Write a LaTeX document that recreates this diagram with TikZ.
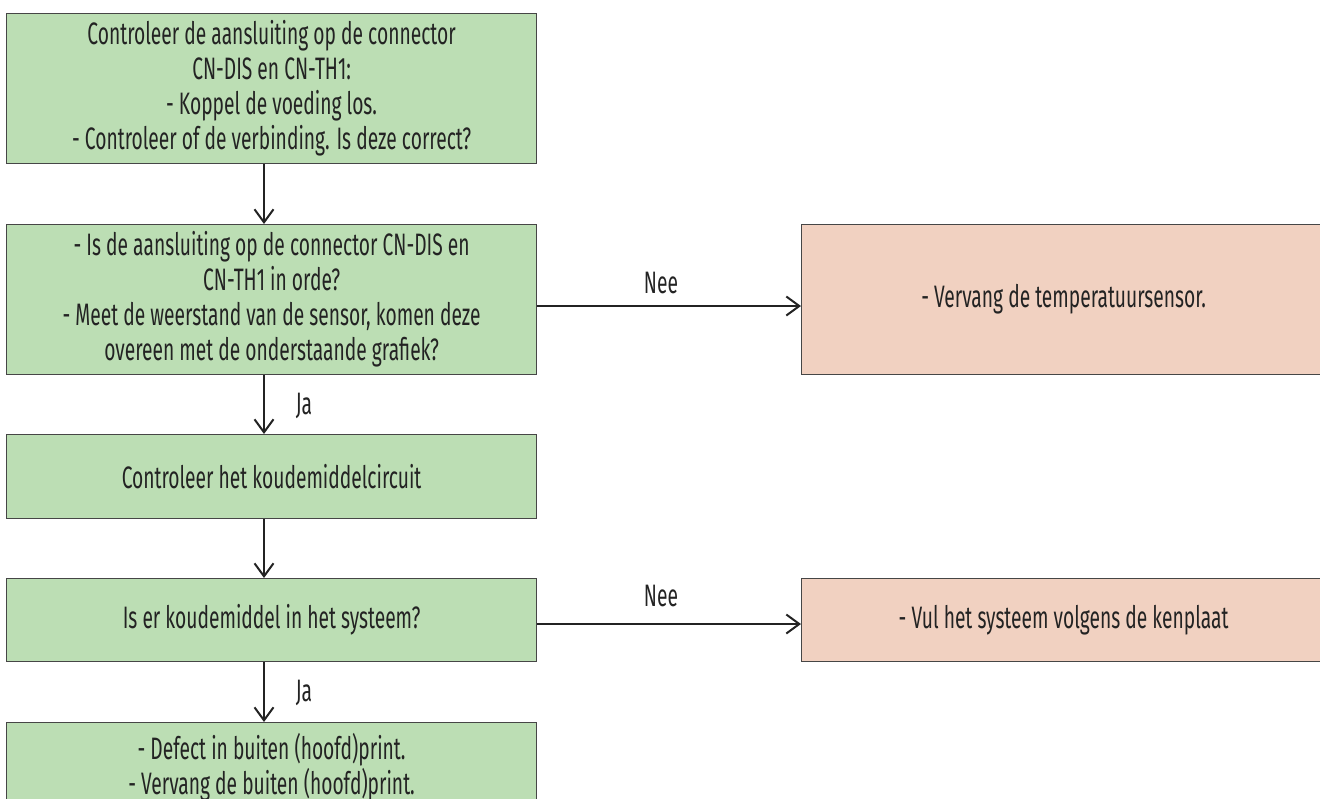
\documentclass[tikz,border=0pt]{standalone}
\usepackage{fontspec}
\setmainfont[FakeStretch=0.62]{Fira Sans}
\usetikzlibrary{arrows.meta}
\definecolor{boxgreen}{RGB}{188,222,180}
\definecolor{boxpink}{RGB}{241,209,193}
\definecolor{edgegray}{RGB}{70,70,70}
\definecolor{txt}{RGB}{35,35,35}
\begin{document}
\begin{tikzpicture}[x=0.5pt,y=-0.5pt,
  box/.style={draw=edgegray, line width=0.6pt, anchor=north west, inner sep=0pt,
    align=center, text=txt, font=\fontsize{15.5}{17.5}\selectfont, minimum width=265pt},
  gbox/.style={box, fill=boxgreen},
  pbox/.style={box, fill=boxpink},
  arr/.style={draw=txt, line width=1pt, -{Straight Barb[length=6.5pt,width=9.5pt,line width=1pt]}},
  lbl/.style={text=txt, font=\fontsize{15.5}{17.5}\selectfont, inner sep=0pt}]
\useasboundingbox (0,0) rectangle (1320,798);
\begin{scope}
\clip (0,0) rectangle (1320,798);
\node[gbox, minimum height=75pt] (b1) at (6,13) {Controleer de aansluiting op de connector\\CN-DIS en CN-TH1:\\- Koppel de voeding los.\\- Controleer of de verbinding. Is deze correct?};
\node[gbox, minimum height=75pt] (b2) at (6,224) {- Is de aansluiting op de connector CN-DIS en\\CN-TH1 in orde?\\- Meet de weerstand van de sensor, komen deze\\overeen met de onderstaande grafiek?};
\node[gbox, minimum height=42pt] (b3) at (6,434) {Controleer het koudemiddelcircuit};
\node[gbox, minimum height=41.5pt] (b4) at (6,578) {Is er koudemiddel in het systeem?};
\node[gbox, minimum height=45pt] (b5) at (6,722) {- Defect in buiten (hoofd)print.\\- Vervang de buiten (hoofd)print.};
\node[pbox, minimum height=75pt, minimum width=262pt] (p1) at (801,224) {- Vervang de temperatuursensor.};
\node[pbox, minimum height=41.5pt, minimum width=262pt] (p2) at (801,578) {- Vul het systeem volgens de kenplaat};
\end{scope}
\coordinate (c1) at (264,0);
\coordinate (h1) at (0,306);
\coordinate (h2) at (0,624);
\draw[arr] (b1.south -| c1) -- (b2.north -| c1);
\draw[arr] (b2.south -| c1) -- (b3.north -| c1);
\draw[arr] (b3.south -| c1) -- (b4.north -| c1);
\draw[arr] (b4.south -| c1) -- (b5.north -| c1);
\draw[arr] (b2.east |- h1) -- (p1.west |- h1);
\draw[arr] (b4.east |- h2) -- (p2.west |- h2);
\node[lbl] (ja1) at (304,406) {Ja};
\node[lbl] (ja2) at (304,693) {Ja};
\node[lbl] (nee1) at (661,283) {Nee};
\node[lbl] (nee2) at (661,596) {Nee};
\end{tikzpicture}
\end{document}
